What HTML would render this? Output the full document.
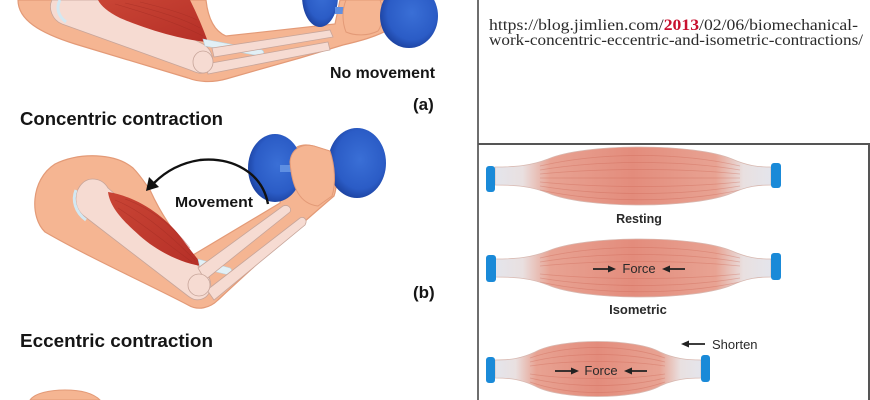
<!DOCTYPE html>
<html>
<head>
<meta charset="utf-8">
<style>
html,body{margin:0;padding:0;background:#fff;}
svg{display:block}
</style>
</head>
<body>
<svg width="870" height="400" viewBox="0 0 870 400" xmlns="http://www.w3.org/2000/svg">
<defs>
  <radialGradient id="plate" cx="0.55" cy="0.45" r="0.6">
    <stop offset="0" stop-color="#3a6fd6"/>
    <stop offset="0.7" stop-color="#2b5cc6"/>
    <stop offset="1" stop-color="#1a3e9a"/>
  </radialGradient>
  <linearGradient id="redm" x1="0" y1="0" x2="1" y2="1">
    <stop offset="0" stop-color="#c94535"/>
    <stop offset="1" stop-color="#b52f27"/>
  </linearGradient>
  <linearGradient id="rm" x1="0" y1="0" x2="1" y2="0">
    <stop offset="0" stop-color="#e4e5ec"/>
    <stop offset="0.1" stop-color="#e9e0e0"/>
    <stop offset="0.2" stop-color="#e8a393"/>
    <stop offset="0.5" stop-color="#e38c7c"/>
    <stop offset="0.8" stop-color="#e8a393"/>
    <stop offset="0.9" stop-color="#e9e0e0"/>
    <stop offset="1" stop-color="#e4e5ec"/>
  </linearGradient>
  <clipPath id="c1"><path d="M495,167 C515,167 530,166 548,159 C585,143 695,143 732,159 C748,166 758,167 771,167 L771,185 C758,185 748,186 732,193 C695,209 585,209 548,193 C530,186 515,185 495,185 Z"/></clipPath>
  <clipPath id="c2"><path d="M495,259 C515,259 530,258 548,251 C585,235 695,235 732,251 C748,258 758,259 771,259 L771,277 C758,277 748,278 732,285 C695,301 585,301 548,285 C530,278 515,277 495,277 Z"/></clipPath>
  <clipPath id="c3"><path d="M495,360 C510,360 520,359 535,352 C560,338 635,338 660,352 C675,359 688,360 701,360 L701,378 C688,378 675,379 660,386 C635,400 560,400 535,386 C520,379 510,378 495,378 Z"/></clipPath>
</defs>

<rect width="870" height="400" fill="#fff"/>

<!-- ============ ARM (a) ============ -->
<path d="M18,0 C18,20 40,33 75,44 L188,78 C198,82 212,83 226,79 L300,58 L343,45 C360,41 375,37 388,30 L390,0 L340,0 L335,24 L226,36 C214,31 208,18 206,0 Z" fill="#f5b592" stroke="#e39a77" stroke-width="1.2"/>
<path d="M52,0 L115,0 L203,44 C214,50 216,66 207,72 C200,75 195,72 190,70 L62,24 C52,20 48,8 52,0 Z" fill="#f6dbd2" stroke="#c7a59a" stroke-width="0.8"/>
<path d="M60,0 C56,8 58,16 66,22" fill="none" stroke="#d3e8f2" stroke-width="3"/>
<path d="M98,0 L190,0 C197,14 203,28 208,42 C188,41 150,31 120,18 C108,12 101,6 98,0 Z" fill="url(#redm)"/>
<g stroke="#9e2a22" stroke-width="0.6" opacity="0.5" fill="none">
  <path d="M115,4 C150,14 180,24 203,36"/>
  <path d="M125,3 C155,10 182,18 200,28"/>
  <path d="M140,2 C165,8 185,14 197,20"/>
</g>
<path d="M203,39 L262,50 C265,52 264,56 260,56 L205,46 Z" fill="#e2f0f6" stroke="#b8d4e0" stroke-width="0.6"/>
<path d="M212,48 L330,30 L333,37 L214,57 Z" fill="#f6dbd2" stroke="#c7a59a" stroke-width="0.8"/>
<path d="M206,64 L328,42 L330,50 L208,74 Z" fill="#f6dbd2" stroke="#c7a59a" stroke-width="0.8"/>
<ellipse cx="203" cy="62" rx="10" ry="11" fill="#f6dbd2" stroke="#c7a59a" stroke-width="0.8"/>
<!-- dumbbell a -->
<ellipse cx="320" cy="-4" rx="18" ry="31" fill="url(#plate)"/>
<rect x="335" y="7" width="48" height="7" fill="#5f8fe2"/>
<path d="M346,0 L380,0 C384,10 383,24 378,31 C368,36 355,36 346,32 C342,22 342,10 346,0 Z" fill="#f5b592" stroke="#e39a77" stroke-width="1"/>
<ellipse cx="409" cy="16" rx="29" ry="32" fill="url(#plate)"/>

<text x="330" y="78" font-family="Liberation Sans, Arial, sans-serif" font-weight="bold" font-size="16" fill="#151515" textLength="105" lengthAdjust="spacingAndGlyphs">No movement</text>
<text x="413" y="110" font-family="Liberation Sans, Arial, sans-serif" font-weight="bold" font-size="17" fill="#151515">(a)</text>
<text x="20" y="125" font-family="Liberation Sans, Arial, sans-serif" font-weight="bold" font-size="18" fill="#151515" textLength="203" lengthAdjust="spacingAndGlyphs">Concentric contraction</text>

<!-- ============ ARM (b) ============ -->
<path d="M45,232 C30,218 30,180 55,164 C80,152 115,153 133,168 C140,175 145,183 150,190 C160,212 175,235 193,255 L280,203 L288,158 C291,147 302,143 313,146 L332,152 C337,168 338,185 334,196 C300,225 250,270 218,300 C210,308 198,311 188,305 C150,285 90,258 45,232 Z" fill="#f5b592" stroke="#e39a77" stroke-width="1.2"/>
<path d="M80,186 C88,175 102,178 108,188 L205,272 C214,280 212,296 202,299 C196,301 192,299 188,296 L84,216 C74,208 74,194 80,186 Z" fill="#f6dbd2" stroke="#c7a59a" stroke-width="0.8"/>
<path d="M76,190 C72,200 75,212 86,220" fill="none" stroke="#d3e8f2" stroke-width="3"/>
<path d="M108,192 C135,196 165,215 183,240 C192,252 198,260 204,266 C185,265 158,252 140,236 C122,220 110,207 108,192 Z" fill="url(#redm)"/>
<g stroke="#9e2a22" stroke-width="0.6" opacity="0.5" fill="none">
  <path d="M115,200 C140,210 165,230 195,260"/>
  <path d="M118,208 C140,222 165,242 192,262"/>
  <path d="M125,199 C150,208 172,225 190,248"/>
</g>
<path d="M198,259 L230,268 C233,270 232,275 229,275 L200,268 Z" fill="#e2f0f6" stroke="#b8d4e0" stroke-width="0.6"/>
<path d="M198,268 L283,206 C288,204 292,208 290,212 L205,280 Z" fill="#f6dbd2" stroke="#c7a59a" stroke-width="0.8"/>
<path d="M207,290 L300,218 C304,216 308,220 305,225 L214,300 Z" fill="#f6dbd2" stroke="#c7a59a" stroke-width="0.8"/>
<circle cx="199" cy="285" r="11" fill="#f6dbd2" stroke="#c7a59a" stroke-width="0.8"/>
<!-- dumbbell b -->
<ellipse cx="275" cy="168" rx="27" ry="34" fill="url(#plate)"/>
<rect x="280" y="165" width="52" height="7" fill="#5f8fe2"/>
<ellipse cx="357" cy="163" rx="29" ry="35" fill="url(#plate)"/>
<path d="M290,162 C291,149 302,143 314,146 L330,151 C335,166 336,184 332,196 L318,206 C300,204 292,188 290,162 Z" fill="#f5b592" stroke="#e39a77" stroke-width="1"/>
<!-- arrow b -->
<path d="M268,204 C262,172 232,157 200,160 C180,163 165,172 154,183" fill="none" stroke="#111" stroke-width="2.4"/>
<path d="M146,191 L149,177 L159,187 Z" fill="#111"/>
<text x="175" y="207" font-family="Liberation Sans, Arial, sans-serif" font-weight="bold" font-size="15" fill="#151515" textLength="78" lengthAdjust="spacingAndGlyphs">Movement</text>
<text x="413" y="298" font-family="Liberation Sans, Arial, sans-serif" font-weight="bold" font-size="17" fill="#151515">(b)</text>
<text x="20" y="347" font-family="Liberation Sans, Arial, sans-serif" font-weight="bold" font-size="18" fill="#151515" textLength="193" lengthAdjust="spacingAndGlyphs">Eccentric contraction</text>

<!-- bottom arm (c) partial -->
<path d="M30,400 C35,393 50,390 65,390 C80,390 93,393 100,400 Z" fill="#f5b592" stroke="#e39a77" stroke-width="1"/>

<!-- ============ RIGHT PANEL ============ -->
<line x1="478" y1="0" x2="478" y2="400" stroke="#6e6e6e" stroke-width="2"/>
<line x1="478" y1="144" x2="870" y2="144" stroke="#555" stroke-width="2"/>
<line x1="869" y1="144" x2="869" y2="400" stroke="#555" stroke-width="2"/>

<text x="489" y="30" font-family="Liberation Serif, serif" font-size="15.5" fill="#2a2a2a" textLength="369" lengthAdjust="spacingAndGlyphs">https://blog.jimlien.com/<tspan fill="#c8102e" font-weight="bold">2013</tspan>/02/06/biomechanical-</text>
<text x="489" y="45" font-family="Liberation Serif, serif" font-size="15.5" fill="#2a2a2a" textLength="374" lengthAdjust="spacingAndGlyphs">work-concentric-eccentric-and-isometric-contractions/</text>

<!-- Resting muscle -->
<path d="M495,167 C515,167 530,166 548,159 C585,143 695,143 732,159 C748,166 758,167 771,167 L771,185 C758,185 748,186 732,193 C695,209 585,209 548,193 C530,186 515,185 495,185 Z" fill="url(#rm)" stroke="#d8b8b0" stroke-width="0.8"/>
<g clip-path="url(#c1)" fill="none" stroke="#c9604f" stroke-width="0.8" opacity="0.35">
  <path d="M540,166 C600,152 680,152 740,166"/>
  <path d="M540,170 C600,160 680,160 740,170"/>
  <path d="M540,174 C600,168 680,168 740,174"/>
  <path d="M540,178 C600,178 680,178 740,178"/>
  <path d="M540,182 C600,188 680,188 740,182"/>
  <path d="M540,186 C600,196 680,196 740,186"/>
  <path d="M540,190 C600,203 680,203 740,190"/>
</g>
<rect x="486" y="166" width="9" height="26" rx="3" fill="#1a8ad8"/>
<rect x="771" y="163" width="10" height="25" rx="3" fill="#1a8ad8"/>
<text x="639" y="223" text-anchor="middle" font-family="Liberation Sans, Arial, sans-serif" font-weight="bold" font-size="12.5" fill="#2a2a2a">Resting</text>

<!-- Isometric muscle -->
<path d="M495,259 C515,259 530,258 548,251 C585,235 695,235 732,251 C748,258 758,259 771,259 L771,277 C758,277 748,278 732,285 C695,301 585,301 548,285 C530,278 515,277 495,277 Z" fill="url(#rm)" stroke="#d8b8b0" stroke-width="0.8"/>
<g clip-path="url(#c2)" fill="none" stroke="#c9604f" stroke-width="0.8" opacity="0.35">
  <path d="M540,258 C600,244 680,244 740,258"/>
  <path d="M540,262 C600,252 680,252 740,262"/>
  <path d="M540,266 C600,260 680,260 740,266"/>
  <path d="M540,274 C600,280 680,280 740,274"/>
  <path d="M540,278 C600,288 680,288 740,278"/>
  <path d="M540,282 C600,295 680,295 740,282"/>
</g>
<rect x="486" y="255" width="10" height="27" rx="3" fill="#1a8ad8"/>
<rect x="771" y="253" width="10" height="27" rx="3" fill="#1a8ad8"/>
<g stroke="#222" stroke-width="1.8">
  <line x1="593" y1="269" x2="610" y2="269"/>
  <line x1="668" y1="269" x2="685" y2="269"/>
</g>
<path d="M616,269 L608,265.5 L608,272.5 Z" fill="#222"/>
<path d="M662,269 L670,265.5 L670,272.5 Z" fill="#222"/>
<text x="639" y="273" text-anchor="middle" font-family="Liberation Sans, Arial, sans-serif" font-size="13" fill="#2a2a2a">Force</text>
<text x="638" y="314" text-anchor="middle" font-family="Liberation Sans, Arial, sans-serif" font-weight="bold" font-size="13" fill="#2a2a2a">Isometric</text>

<!-- Concentric (shorten) muscle -->
<path d="M495,360 C510,360 520,359 535,352 C560,338 635,338 660,352 C675,359 688,360 701,360 L701,378 C688,378 675,379 660,386 C635,400 560,400 535,386 C520,379 510,378 495,378 Z" fill="url(#rm)" stroke="#d8b8b0" stroke-width="0.8"/>
<g clip-path="url(#c3)" fill="none" stroke="#c9604f" stroke-width="0.8" opacity="0.35">
  <path d="M530,358 C570,344 625,344 665,358"/>
  <path d="M530,362 C570,352 625,352 665,362"/>
  <path d="M530,366 C570,360 625,360 665,366"/>
  <path d="M530,374 C570,380 625,380 665,374"/>
  <path d="M530,378 C570,388 625,388 665,378"/>
  <path d="M530,382 C570,396 625,396 665,382"/>
</g>
<rect x="486" y="357" width="9" height="26" rx="3" fill="#1a8ad8"/>
<rect x="701" y="355" width="9" height="27" rx="3" fill="#1a8ad8"/>
<g stroke="#222" stroke-width="1.8">
  <line x1="555" y1="371" x2="573" y2="371"/>
  <line x1="630" y1="371" x2="647" y2="371"/>
  <line x1="687" y1="344" x2="705" y2="344"/>
</g>
<path d="M579,371 L571,367.5 L571,374.5 Z" fill="#222"/>
<path d="M624,371 L632,367.5 L632,374.5 Z" fill="#222"/>
<path d="M681,344 L689,340.5 L689,347.5 Z" fill="#222"/>
<text x="601" y="375" text-anchor="middle" font-family="Liberation Sans, Arial, sans-serif" font-size="13" fill="#2a2a2a">Force</text>
<text x="712" y="349" font-family="Liberation Sans, Arial, sans-serif" font-size="13" fill="#2a2a2a">Shorten</text>
</svg>
</body>
</html>
